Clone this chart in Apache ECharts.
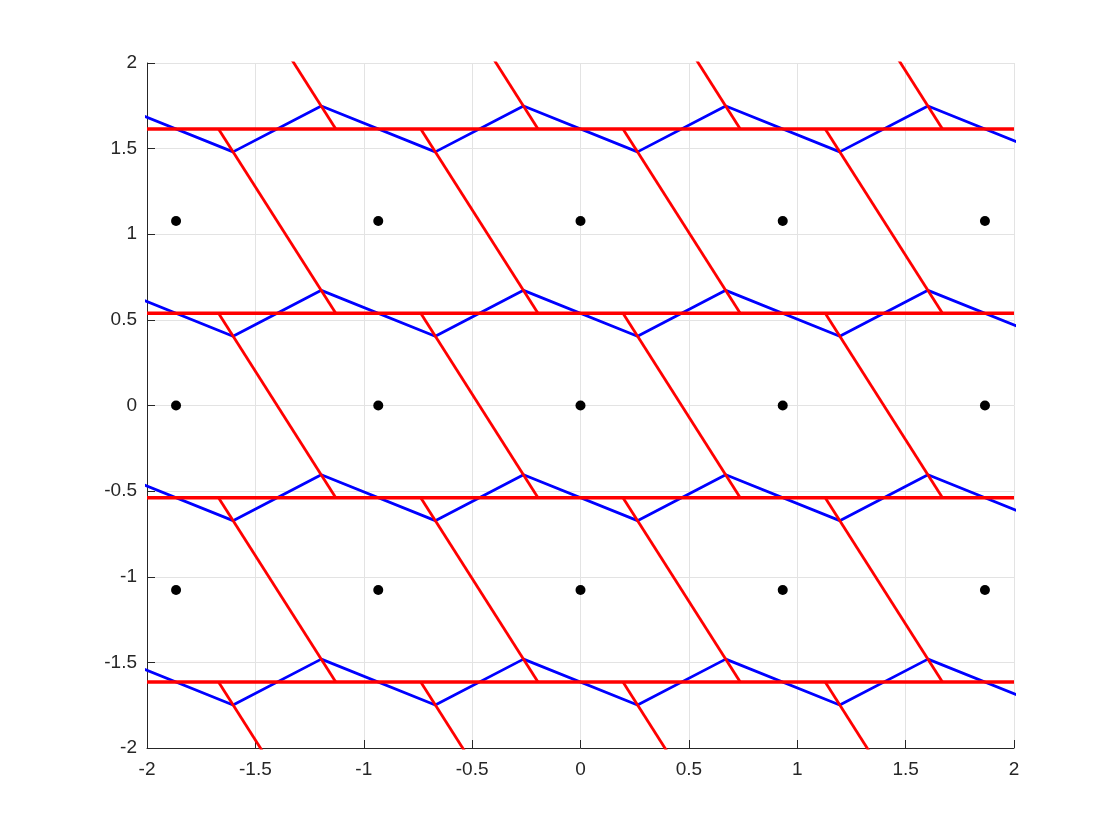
<!DOCTYPE html>
<html>
<head>
<meta charset="utf-8">
<title>lattice</title>
<script src="https://cdn.jsdelivr.net/npm/echarts@6.0.0/dist/echarts.min.js"></script>
<style>
  html, body { margin: 0; padding: 0; background: #fff; }
  #myChart { width: 1120px; height: 840px; }
</style>
</head>
<body>
<div id="myChart"></div>
<script>
// black dots
const dotX = [-1.866, -0.933, 0, 0.933, 1.866]
const dotY = [-1.0775, 0, 1.0775]

// red horizontal lines
const levels = [1.615, 0.5385, -0.5385, -1.615]

// blue zigzag around each level (x of vertices, offset from level)
const zigX = [-2.129, -1.603, -1.196, -0.670, -0.263, 0.263, 0.670, 1.196, 1.603, 2.129]
const zigDy = [0.134, -0.134, 0.134, -0.134, 0.134, -0.134, 0.134, -0.134, 0.134, -0.134]

// red slanted segments, one band between two levels
const bandTop = [2.6925, 1.615, 0.5385, -0.5385, -1.615]
const bandBottom = [1.615, 0.5385, -0.5385, -1.615, -2.6925]
const diagTopX = [-1.670, -0.737, 0.196, 1.129]
const diagBottomX = [-1.129, -0.196, 0.737, 1.670]

const blue = '#0000ff'
const red = '#ff0000'
const axisColor = '#262626'

let series = []

// 蓝色折线
levels.forEach(function (h) {
  series.push({
    type: 'line',
    symbol: 'none',
    silent: true,
    lineStyle: { color: blue, width: 2.8 },
    data: zigX.map(function (x, i) { return [x, h + zigDy[i]] })
  })
})

// 红色水平线
levels.forEach(function (h) {
  series.push({
    type: 'line',
    symbol: 'none',
    silent: true,
    lineStyle: { color: red, width: 3.6 },
    data: [[-2, h], [2, h]]
  })
})

// 红色斜线
bandTop.forEach(function (t, b) {
  diagTopX.forEach(function (x0, i) {
    series.push({
      type: 'line',
      symbol: 'none',
      silent: true,
      lineStyle: { color: red, width: 2.8 },
      data: [[x0, t], [diagBottomX[i], bandBottom[b]]]
    })
  })
})

let dots = []
dotY.forEach(function (y) {
  dotX.forEach(function (x) { dots.push([x, y]) })
})
series.push({
  type: 'scatter',
  symbolSize: 10,
  itemStyle: { color: '#000', opacity: 1 },
  data: dots
})

function axis (margin) {
  return {
    type: 'value',
    min: -2,
    max: 2,
    interval: 0.5,
    axisLine: { onZero: false, lineStyle: { color: axisColor, width: 1 } },
    axisTick: { inside: true, length: 8, lineStyle: { color: axisColor } },
    axisLabel: { fontSize: 19, color: axisColor, margin: margin, fontFamily: 'Liberation Sans' },
    splitLine: { show: true, lineStyle: { color: '#e3e3e3', width: 1 } }
  }
}

let myChart = echarts.init(document.getElementById('myChart'))
myChart.setOption({
  animation: false,
  grid: { left: 147, right: 106, top: 63, bottom: 92 },
  xAxis: axis(12),
  yAxis: axis(10),
  series: series
})
</script>
</body>
</html>
